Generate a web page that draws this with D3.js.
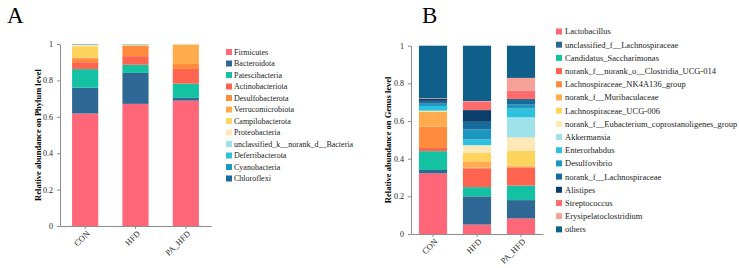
<!DOCTYPE html>
<html>
<head>
<meta charset="utf-8">
<script src="https://cdn.jsdelivr.net/npm/d3@7"></script>
<style>
  body { margin: 0; background: #fff; }
  svg { display: block; font-family: "Liberation Serif", "Times New Roman", serif; }
  .axis path, .axis line { stroke: #8c8c8c; }
  .axis text { fill: #222; font-size: 8px; font-family: "Liberation Serif", serif; }
</style>
</head>
<body>
<div id="chart"></div>
<script>
// groups on the x axis
const groups = ['CON', 'HFD', 'PA_HFD'];
const yTicks = [0, 0.2, 0.4, 0.6, 0.8, 1];

// panel A: phylum level
const phylumNames = ['Firmicutes', 'Bacteroidota', 'Patescibacteria', 'Actinobacteriota',
  'Desulfobacterota', 'Verrucomicrobiota', 'Campilobacterota', 'Proteobacteria',
  'unclassified_k__norank_d__Bacteria', 'Deferribacterota', 'Cyanobacteria', 'Chloroflexi'];
const phylumCON = [0.618, 0.142, 0.102, 0.038, 0.022, 0.004, 0.062, 0.008, 0.001, 0.001, 0.001, 0.001];
const phylumHFD = [0.671, 0.170, 0.045, 0.047, 0.058, 0.002, 0.001, 0.002, 0.002, 0.001, 0.001, 0.000];
const phylumPA = [0.689, 0.015, 0.078, 0.081, 0.027, 0.107, 0.001, 0.001, 0.001, 0.000, 0.000, 0.000];
const phylumColors = ['#ff6678', '#2f6894', '#14c2a3', '#ff6450', '#ff8c3c', '#ffab4e',
  '#ffd45c', '#fde9b5', '#9fe2ea', '#2ec1df', '#1c97bf', '#166b9c'];

// panel B: genus level
const genusNames = ['Lactobacillus', 'unclassified_f__Lachnospiraceae', 'Candidatus_Saccharimonas',
  'norank_f__norank_o__Clostridia_UCG-014', 'Lachnospiraceae_NK4A136_group', 'norank_f__Muribaculaceae',
  'Lachnospiraceae_UCG-006', 'norank_f__Eubacterium_coprostanoligenes_group', 'Akkermansia',
  'Enterorhabdus', 'Desulfovibrio', 'norank_f__Lachnospiraceae', 'Alistipes', 'Streptococcus',
  'Erysipelatoclostridium', 'others'];
const genusCON = [0.322, 0.018, 0.100, 0.017, 0.113, 0.078, 0.003, 0.002, 0.002, 0.025, 0.012, 0.015, 0.012, 0.002, 0.001, 0.278];
const genusHFD = [0.050, 0.150, 0.049, 0.100, 0.004, 0.033, 0.044, 0.040, 0.002, 0.030, 0.053, 0.041, 0.062, 0.046, 0.002, 0.294];
const genusPA = [0.083, 0.097, 0.077, 0.095, 0.005, 0.006, 0.078, 0.072, 0.107, 0.046, 0.021, 0.026, 0.004, 0.045, 0.067, 0.171];
const genusColors = ['#ff6678', '#2f6894', '#14c2a3', '#ff6450', '#ff8c3c', '#ffab4e',
  '#ffd45c', '#fde9b5', '#9fe2ea', '#2ec1df', '#1c97bf', '#166b9c', '#0c3e6c', '#ff6c6c',
  '#f5a199', '#0e5f8a'];

const width = 739, height = 268;
const svg = d3.select('#chart').append('svg')
  .attr('width', width)
  .attr('height', height);

function drawPanel(opt) {
  const names = opt.names;
  const rows = groups.map((g, gi) => {
    const row = { group: g };
    names.forEach((n, i) => { row[n] = opt.values[gi][i]; });
    return row;
  });
  const series = d3.stack().keys(names)(rows);

  const x = d3.scaleBand()
    .domain(groups)
    .range([opt.left, opt.right])
    .paddingInner(opt.pad)
    .paddingOuter(opt.pad / 2);
  const y = d3.scaleLinear()
    .domain([0, 1])
    .range([opt.bottom, opt.top]);
  const color = d3.scaleOrdinal().domain(names).range(opt.colors);

  const g = svg.append('g');

  g.selectAll('g.layer')
    .data(series)
    .enter()
    .append('g')
    .attr('class', 'layer')
    .attr('fill', d => color(d.key))
    .selectAll('rect')
    .data(d => d)
    .enter()
    .append('rect')
    .attr('x', d => x(d.data.group))
    .attr('width', x.bandwidth())
    .attr('y', d => y(d[1]))
    .attr('height', d => Math.max(0, y(d[0]) - y(d[1])));

  // y axis
  g.append('g')
    .attr('class', 'axis')
    .attr('transform', `translate(${opt.left},0)`)
    .call(d3.axisLeft(y).tickValues(yTicks).tickFormat(d3.format('~g')).tickSize(3).tickSizeOuter(0))
    .selectAll('text').attr('dx', '-1');

  // x axis, labels turned 45 degrees and ending at the tick
  const xa = g.append('g')
    .attr('class', 'axis')
    .attr('transform', `translate(0,${opt.bottom})`)
    .call(d3.axisBottom(x).tickSize(3).tickSizeOuter(0));
  xa.selectAll('text')
    .style('font-size', '8.5px')
    .attr('x', 0)
    .attr('y', 0)
    .attr('dy', '0.35em')
    .attr('text-anchor', 'end')
    .attr('transform', 'translate(3,6) rotate(-45)');

  // y label
  g.append('text')
    .attr('transform', `translate(${opt.labelX},${(opt.top + opt.bottom) / 2}) rotate(-90)`)
    .attr('text-anchor', 'middle')
    .style('font-size', '8.5px')
    .style('font-weight', 'bold')
    .text(opt.yLabel);

  // panel letter
  g.append('text')
    .attr('x', opt.letterX)
    .attr('y', 23)
    .style('font-size', '23px')
    .text(opt.letter);

  // legend
  const leg = g.selectAll('g.legend')
    .data(names)
    .enter()
    .append('g')
    .attr('class', 'legend')
    .attr('transform', (d, i) => `translate(${opt.legX},${opt.legY + i * opt.legStep})`);
  leg.append('rect')
    .attr('x', 0)
    .attr('y', -3)
    .attr('width', 6)
    .attr('height', 6)
    .attr('fill', d => color(d));
  leg.append('text')
    .attr('x', opt.legText)
    .attr('y', 0)
    .attr('dy', '0.35em')
    .style('font-size', opt.legFont)
    .style('fill', '#222')
    .text(d => d);
}

drawPanel({
  names: phylumNames,
  values: [phylumCON, phylumHFD, phylumPA],
  colors: phylumColors,
  left: 60, right: 211, top: 44, bottom: 226,
  pad: 0.48,
  labelX: 41,
  yLabel: 'Relative abundance on Phylum level',
  letter: 'A', letterX: 7,
  legX: 226, legY: 52, legStep: 11.5, legText: 8, legFont: '8px'
});

drawPanel({
  names: genusNames,
  values: [genusCON, genusHFD, genusPA],
  colors: genusColors,
  left: 411, right: 543, top: 45.7, bottom: 234,
  pad: 0.36,
  labelX: 391,
  yLabel: 'Relative abundance on Genus level',
  letter: 'B', letterX: 422,
  legX: 556, legY: 31.5, legStep: 13.19, legText: 9, legFont: '8.5px'
});
</script>
</body>
</html>
